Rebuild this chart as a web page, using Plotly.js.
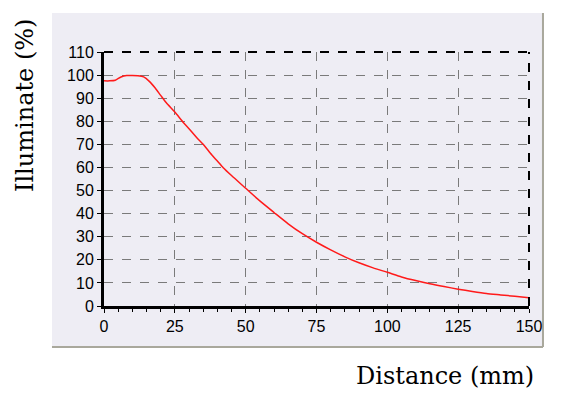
<!DOCTYPE html>
<html>
<head>
<meta charset="utf-8">
<script src="https://cdn.plot.ly/plotly-3.0.1.min.js"></script>
<style>html,body{margin:0;padding:0;background:#fff;}#chart{width:563px;height:399px;}</style>
</head>
<body>
<div id="chart"></div>
<script>
const distance = [0,2,4,6,8,10,12,14,16,18,20,22,25,28,30,33,35,38,40,42,45,50,55,60,65,70,75,80,85,90,95,100,105,110,115,120,125,130,135,140,145,150];
const illuminate = [97.5,97.5,97.8,99.2,99.8,99.8,99.7,99.2,97.3,94.5,91.2,88,84,79.5,76.8,72.5,70,65.5,62.8,60,56.5,51,45.5,40.5,35.6,31.3,27.6,24.3,21.3,18.7,16.5,14.6,12.6,11,9.6,8.4,7.3,6.3,5.4,4.8,4.2,3.6];
const xTicks = [0,25,50,75,100,125,150];
const yTicks = [0,10,20,30,40,50,60,70,80,90,100,110];
const xTitle = 'Distance (mm)';
const yTitle = 'Illuminate (%)';

const trace = {
  x: distance, y: illuminate, type: 'scatter', mode: 'lines',
  line: {color: '#ff1a1a', width: 1.5, shape: 'spline', smoothing: 0.6},
  hoverinfo: 'none'
};

const tickFont = {family: 'Liberation Sans, Arial, sans-serif', size: 16, color: '#000'};
const titleFont = {family: 'DejaVu Serif, serif', size: 24, color: '#000'};

const layout = {
  width: 563, height: 399,
  margin: {l: 104, r: 34, t: 52, b: 93},
  paper_bgcolor: '#ffffff',
  plot_bgcolor: 'rgba(0,0,0,0)',
  showlegend: false,
  xaxis: {
    range: [0, 150], tickvals: xTicks, ticktext: xTicks.map(String),
    showgrid: true, gridcolor: '#7a7a7a', griddash: 'dash', gridwidth: 1,
    showline: true, linecolor: '#000', linewidth: 3,
    ticks: 'outside', ticklen: 4, tickcolor: '#000', tickwidth: 1,
    minor: {dtick: 5, tick0: 0, ticks: 'outside', ticklen: 3, tickcolor: '#000', showgrid: false},
    tickfont: tickFont, zeroline: false, fixedrange: true
  },
  yaxis: {
    range: [0, 110], tickvals: yTicks, ticktext: yTicks.map(String),
    showgrid: true, gridcolor: '#7a7a7a', griddash: 'dash', gridwidth: 1,
    showline: true, linecolor: '#000', linewidth: 3,
    ticks: 'outside', ticklen: 4, tickcolor: '#000', tickwidth: 1,
    tickfont: tickFont, zeroline: false, fixedrange: true
  },
  shapes: [
    {type: 'rect', xref: 'paper', yref: 'paper', x0: -0.1224, x1: 1.0329, y0: -0.1614, y1: 1.1535,
     fillcolor: '#eeedf4', line: {width: 0}, layer: 'below'},
    {type: 'line', xref: 'paper', yref: 'paper', x0: 1.0329, x1: 1.0329, y0: -0.1614, y1: 1.1535,
     line: {color: '#a9a89c', width: 2}, layer: 'below'},
    {type: 'line', xref: 'paper', yref: 'paper', x0: -0.1224, x1: 1.0329, y0: -0.1614, y1: -0.1614,
     line: {color: '#a9a89c', width: 2}, layer: 'below'},
    {type: 'line', xref: 'paper', yref: 'paper', x0: 0, x1: 1, y0: 1, y1: 1,
     line: {color: '#000', width: 2, dash: 'dash'}},
    {type: 'line', xref: 'paper', yref: 'paper', x0: 1, x1: 1, y0: 0, y1: 1,
     line: {color: '#000', width: 2, dash: 'dash'}}
  ],
  annotations: [
    {text: xTitle, xref: 'paper', yref: 'paper', x: 0.802, y: -0.276, xanchor: 'center', yanchor: 'middle',
     showarrow: false, font: titleFont},
    {text: yTitle, xref: 'paper', yref: 'paper', x: -0.186, y: 0.791, xanchor: 'center', yanchor: 'middle',
     textangle: -90, showarrow: false, font: titleFont}
  ]
};

Plotly.newPlot('chart', [trace], layout, {staticPlot: true, displayModeBar: false});
</script>
</body>
</html>
